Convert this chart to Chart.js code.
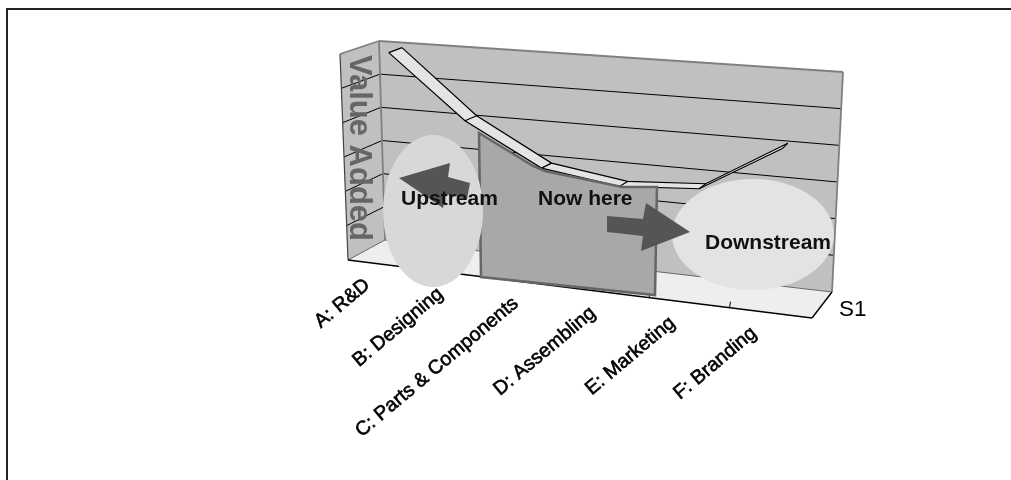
<!DOCTYPE html>
<html>
<head>
<meta charset="utf-8">
<style>html,body{margin:0;padding:0;background:#fff}canvas{display:block}</style>
<script src="https://cdn.jsdelivr.net/npm/chart.js@4"></script>
</head>
<body>
<canvas id="chart" width="1011" height="480"></canvas>
<script>
const categories = ['A: R&D', 'B: Designing', 'C: Parts & Components', 'D: Assembling', 'E: Marketing', 'F: Branding']
const valueAdded = [6, 4.2, 3.05, 2.75, 2.9, 4.2]
const valueTicks = [0, 1, 2, 3, 4, 5, 6]

// corners of the 3d box, picture pixels
const backWall = { tl: [379, 41], tr: [843, 72], bl: [385, 240], br: [832, 292] }
const sideTop = [340, 54]
const sideBottom = [348, 260]
const floorFrontRight = [812, 318]
// the ribbon sits inside the box on two planes
const ribbonFront = { tl: [352, 50], tr: [828, 84], bl: [360, 254], br: [818, 310] }
const ribbonBack = { tl: [366, 45], tr: [832, 79], bl: [374, 249], br: [822, 305] }

const warp = u => u + 0.08 * u * (u - 1)
const mix = (a, b, t) => [a[0] + (b[0] - a[0]) * t, a[1] + (b[1] - a[1]) * t]
const onPlane = (q, u, v) => mix(mix(q.bl, q.br, warp(u)), mix(q.tl, q.tr, warp(u)), v)

const fracX = (chart, px) => (px - chart.chartArea.left) / chart.chartArea.width
const fracY = (chart, py) => (chart.chartArea.bottom - py) / chart.chartArea.height

function path(ctx, pts) {
    ctx.beginPath()
    pts.forEach((p, i) => (i ? ctx.lineTo(p[0], p[1]) : ctx.moveTo(p[0], p[1])))
}
function shape(ctx, pts, fill, stroke, width) {
    path(ctx, pts)
    ctx.closePath()
    if (fill) { ctx.fillStyle = fill; ctx.fill() }
    if (stroke) { ctx.strokeStyle = stroke; ctx.lineWidth = width; ctx.stroke() }
}
function seg(ctx, a, b, color, width) {
    path(ctx, [a, b])
    ctx.strokeStyle = color
    ctx.lineWidth = width
    ctx.stroke()
}

const box3d = {
    id: 'box3d',
    // moves the line points from the flat scales on to the 3d planes
    afterDatasetsUpdate(chart) {
        [ribbonFront, ribbonBack].forEach((plane, d) => {
            chart.getDatasetMeta(d).data.forEach(pt => {
                const p = onPlane(plane, fracX(chart, pt.x), fracY(chart, pt.y))
                pt.x = p[0]
                pt.y = p[1]
            })
        })
    },
    beforeDraw(chart) {
        const ctx = chart.ctx
        const xs = chart.scales.x
        const ys = chart.scales.y
        ctx.save()
        ctx.lineCap = 'butt'
        seg(ctx, [6, 9], [1011, 9], '#222', 2)
        seg(ctx, [7, 8], [7, 480], '#222', 2)

        // walls and floor
        shape(ctx, [sideTop, backWall.tl, backWall.bl, sideBottom], '#c0c0c0')
        shape(ctx, [backWall.tl, backWall.tr, backWall.br, backWall.bl], '#c0c0c0')
        shape(ctx, [sideBottom, backWall.bl, backWall.br, floorFrontRight], '#eeeeee')

        // gridlines from the value scale
        ys.ticks.forEach(t => {
            const v = fracY(chart, ys.getPixelForValue(t.value))
            if (v <= 0 || v >= 1) return
            const back = mix(backWall.bl, backWall.tl, v)
            const right = mix(backWall.br, backWall.tr, v)
            const front = mix(sideBottom, sideTop, v)
            seg(ctx, front, back, '#000', 1)
            seg(ctx, back, right, '#000', 1)
        })

        seg(ctx, sideTop, sideBottom, '#444', 1.2)
        seg(ctx, sideTop, backWall.tl, '#808080', 1.8)
        seg(ctx, backWall.tl, backWall.tr, '#808080', 1.8)
        seg(ctx, backWall.tl, backWall.bl, '#808080', 1.8)
        seg(ctx, backWall.tr, backWall.br, '#808080', 1.8)
        seg(ctx, backWall.bl, backWall.br, '#666', 1)
        seg(ctx, sideBottom, backWall.bl, '#666', 1)
        seg(ctx, sideBottom, floorFrontRight, '#000', 1.4)
        seg(ctx, floorFrontRight, backWall.br, '#000', 1.4)

        // category boundaries on the front edge
        for (let i = 1; i < categories.length; i++) {
            const p = mix(sideBottom, floorFrontRight, warp(i / categories.length))
            seg(ctx, p, [p[0] + 1, p[1] - 6], '#000', 1)
        }

        ctx.fillStyle = '#666666'
        ctx.font = 'bold 31px "Liberation Sans"'
        ctx.textBaseline = 'alphabetic'
        ctx.translate(350, 55)
        ctx.rotate(Math.PI / 2)
        ctx.fillText('Value Added', 0, 0)
        ctx.restore()

        // category labels follow the slanted front edge
        xs.getLabelItems().forEach((item, i) => {
            const p = mix(sideBottom, floorFrontRight, warp((i + 0.5) / categories.length))
            item.options.translation = [p[0] - 24, p[1] + 9]
        })
    },
    beforeDatasetsDraw(chart) {
        const ctx = chart.ctx
        const front = chart.getDatasetMeta(0).data
        const back = chart.getDatasetMeta(1).data
        const at = pt => [pt.x, pt.y]
        ctx.save()
        for (let i = 0; i < front.length - 1; i++) {
            shape(ctx, [at(front[i]), at(front[i + 1]), at(back[i + 1]), at(back[i])], '#e4e4e4')
        }
        front.forEach((pt, i) => seg(ctx, at(pt), at(back[i]), '#000', 1.2))
        ctx.restore()
    },
    afterDatasetsDraw(chart) {
        const ctx = chart.ctx
        ctx.save()
        // "now here" panel
        shape(ctx, [[479, 133], [533, 166], [545, 171], [622, 187], [657, 187], [655, 295], [481, 277]], '#a8a8a8', '#666666', 2.5)

        ctx.fillStyle = '#d8d8d8'
        ctx.beginPath()
        ctx.ellipse(433, 211, 50, 76, 0, 0, Math.PI * 2)
        ctx.fill()
        ctx.fillStyle = '#e3e3e3'
        ctx.beginPath()
        ctx.ellipse(753, 234.5, 81, 55.5, 0, 0, Math.PI * 2)
        ctx.fill()

        shape(ctx, [[399, 178], [450, 163], [448, 177], [470, 183], [467, 199], [446, 194], [443, 208]], '#555555')
        shape(ctx, [[607, 216], [643, 219], [646, 203], [690, 232], [641, 251], [643, 236], [607, 232]], '#555555')

        ctx.fillStyle = '#111'
        ctx.font = 'bold 21px "Liberation Sans"'
        ctx.textBaseline = 'alphabetic'
        ctx.fillText('Upstream', 401, 205)
        ctx.fillText('Now here', 538, 205)
        ctx.fillText('Downstream', 705, 249)
        ctx.font = '22.5px "Liberation Sans"'
        ctx.fillStyle = '#000'
        ctx.fillText('S1', 839, 316)
        ctx.restore()
    }
}

const baseLine = {
    data: valueAdded,
    borderColor: '#000',
    borderWidth: 1.2,
    pointRadius: 0,
    tension: 0,
    fill: false,
    clip: false
}

new Chart(document.getElementById('chart').getContext('2d'), {
    type: 'line',
    data: {
        labels: categories,
        datasets: [
            Object.assign({ label: 'S1' }, baseLine),
            Object.assign({ label: 'S1 back edge' }, baseLine)
        ]
    },
    options: {
        responsive: false,
        animation: false,
        events: [],
        layout: { padding: 0 },
        plugins: { legend: { display: false }, tooltip: { enabled: false } },
        scales: {
            x: {
                offset: true,
                // labels get clipped to the scale box, so keep it tall enough for the moved labels
                afterFit: scale => { scale.height = 300 },
                grid: { display: false, drawTicks: false },
                border: { display: false },
                ticks: {
                    autoSkip: false,
                    minRotation: 40,
                    maxRotation: 40,
                    color: '#000',
                    textStrokeColor: '#000',
                    textStrokeWidth: 0.6,
                    font: { family: '"Liberation Sans"', size: 19.6 }
                }
            },
            y: {
                display: false,
                min: valueTicks[0],
                max: valueTicks[valueTicks.length - 1],
                ticks: { stepSize: 1 }
            }
        }
    },
    plugins: [box3d]
})
</script>
</body>
</html>
